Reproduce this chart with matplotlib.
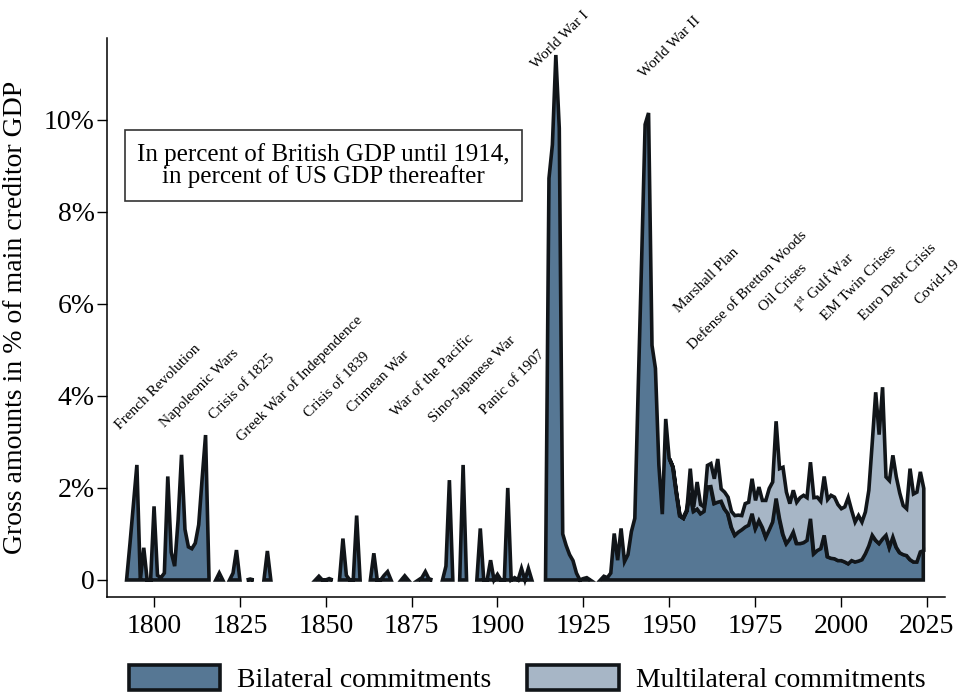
import matplotlib
matplotlib.use("Agg")
import matplotlib.pyplot as plt
from matplotlib.patches import Patch
import numpy as np

plt.rcParams['font.family'] = ['Liberation Serif', 'DejaVu Serif']
plt.rcParams['mathtext.fontset'] = 'custom'
plt.rcParams['mathtext.rm'] = 'Liberation Serif'

nan = np.nan

# gross bilateral commitments, % of creditor GDP, one value per year 1790-2024
years = np.arange(1790, 2025)
bilateral = [
    nan, nan, 0, 0.8, 1.65, 2.5, 0, 0.7, 0, 0,                    # 1790s
    1.6, 0.1, 0.05, 0.15, 2.25, 0.6, 0.3, 1.3, 2.72, 1.1,         # 1800s
    0.72, 0.68, 0.8, 1.2, 2.2, 3.15, 0.05, nan, 0, 0.15,          # 1810s
    0, nan, 0, 0.15, 0.65, 0, nan, 0, 0.02, 0,                    # 1820s
    nan, nan, 0, 0.63, 0, nan, nan, nan, nan, nan,                # 1830s
    nan, nan, nan, nan, nan, nan, nan, 0, 0.08, 0,                # 1840s
    0, 0.03, 0, nan, 0, 0.9, 0.1, 0, 0, 1.4,                      # 1850s
    0, nan, nan, 0, 0.58, 0, 0, 0.1, 0.18, 0,                     # 1860s
    nan, nan, 0, 0.09, 0, nan, nan, 0, 0.05, 0.18,                # 1870s
    0.03, 0, nan, nan, 0, 0.3, 2.17, 0, nan, 0,                   # 1880s
    2.5, 0, nan, nan, 0, 1.12, 0, 0, 0.43, 0,                     # 1890s
    0.12, 0, 0, 2.0, 0, 0.05, 0, 0.25, 0, 0.25,                   # 1900s
    0, nan, nan, nan, 0, 8.73, 9.46, 11.41, 9.82, 1.0,            # 1910s
    0.75, 0.55, 0.42, 0.15, 0, 0.03, 0.05, 0, nan, nan,           # 1920s
    0, 0.08, 0.05, 0.15, 1.01, 0.43, 1.12, 0.4, 0.55, 1.05,       # 1930s
    1.34, 4.2, 7.0, 9.9, 10.15, 5.1, 4.6, 2.5, 1.43, 3.5,         # 1940s
    2.64, 2.46, 1.9, 1.4, 1.35, 1.5, 1.9, 1.5, 1.55, 1.45,        # 1950s
    1.5, 2.03, 2.04, 1.67, 1.7, 1.72, 1.55, 1.45, 1.15, 0.98,     # 1960s
    1.05, 1.1, 1.16, 1.2, 1.45, 1.13, 1.3, 1.15, 0.94, 1.1,       # 1970s
    1.27, 1.78, 1.34, 1.0, 0.8, 0.9, 1.05, 0.8, 0.8, 0.82,        # 1980s
    0.87, 1.34, 0.58, 0.65, 0.69, 0.98, 0.51, 0.48, 0.47, 0.43,   # 1990s
    0.43, 0.4, 0.36, 0.43, 0.4, 0.42, 0.45, 0.58, 0.75, 0.98,     # 2000s
    0.87, 0.8, 0.9, 0.98, 0.72, 0.94, 0.72, 0.6, 0.56, 0.54,      # 2010s
    0.45, 0.4, 0.4, 0.62, 0.65,                                   # 2020-2024
]

# multilateral commitments, stacked on top of the bilateral ones
multi_years = np.arange(1950, 2025)
multilateral = [
    0, 0, 0, 0, 0, 0.02, 0.53, 0.1, 0.59, 0.2,                    # 1950s
    0.1, 0.47, 0.5, 0.54, 0.94, 0.27, 0.37, 0.36, 0.35, 0.43,     # 1960s
    0.37, 0.31, 0.51, 0.5, 0.76, 0.61, 0.73, 0.59, 0.8, 0.9,      # 1970s
    0.87, 1.68, 1.09, 1.46, 1.12, 0.77, 0.91, 0.9, 1.0, 1.03,     # 1980s
    0.93, 1.23, 1.22, 1.16, 1.03, 1.28, 1.25, 1.37, 1.34, 1.22,   # 1990s
    1.13, 1.2, 1.44, 1.09, 0.87, 0.99, 0.82, 0.91, 1.21, 2.02,    # 2000s
    3.22, 2.37, 3.3, 1.27, 1.45, 1.78, 1.53, 1.3, 1.07, 1.02,     # 2010s
    1.98, 1.48, 1.52, 1.74, 1.35,                                 # 2020-2024
]

event_names = [
    "French Revolution", "Napoleonic Wars", "Crisis of 1825",
    "Greek War of Independence", "Crisis of 1839", "Crimean War",
    "War of the Pacific", "Sino-Japanese War", "Panic of 1907",
    "World War I", "World War II", "Marshall Plan",
    "Defense of Bretton Woods", "Oil Crises", r"1$^{\mathrm{st}}$ Gulf War",
    "EM Twin Crises", "Euro Debt Crisis", "Covid-19",
]
# where each rotated label starts (year, % value)
event_pos = [
    (1790.0, 3.26), (1803.1, 3.30), (1817.6, 3.48), (1825.7, 3.00),
    (1845.1, 3.52), (1857.6, 3.63), (1870.4, 3.54), (1881.4, 3.41),
    (1896.5, 3.59), (1911.2, 11.10), (1942.8, 10.90), (1953.0, 5.80),
    (1956.9, 5.00), (1977.7, 5.82), (1987.9, 5.76), (1995.6, 5.62),
    (2006.7, 5.62), (2023.0, 5.98),
]

c_bil = '#567794'
c_mul = '#a7b6c6'
c_edge = '#111519'
lw = 2.6

fig = plt.figure(figsize=(9.58, 6.98), dpi=100)
ax = fig.add_axes([0.1117, 0.1447, 0.875, 0.8009])

bil = np.array(bilateral, dtype=float)
mul = np.array(multilateral, dtype=float)
bil_m = bil[years >= multi_years[0]]

ax.fill_between(years, 0, bil, facecolor=c_bil, edgecolor=c_edge,
                linewidth=lw, joinstyle='miter', zorder=2)
ax.fill_between(multi_years, bil_m, bil_m + mul, facecolor=c_mul,
                edgecolor=c_edge, linewidth=lw, joinstyle='miter', zorder=3)

for name, (x, y) in zip(event_names, event_pos):
    ax.text(x, y, name, rotation=45, rotation_mode='anchor', ha='left',
            va='baseline', fontsize=11, clip_on=False, zorder=4)

ax.set_xlim(1786.3, 2030.4)
ax.set_ylim(-0.37, 11.78)
ax.set_xticks(range(1800, 2026, 25))
ax.set_yticks([0, 2, 4, 6, 8, 10])
ax.set_yticklabels(['0', '2%', '4%', '6%', '8%', '10%'])
ax.tick_params(direction='out', length=7, width=1, labelsize=20, colors='black')
ax.tick_params(axis='y', pad=2)
ax.tick_params(axis='x', pad=5)
for side in ['top', 'right']:
    ax.spines[side].set_visible(False)
for side in ['left', 'bottom']:
    ax.spines[side].set_linewidth(1.1)

ax.set_ylabel('Gross amounts in % of main creditor GDP', fontsize=20)
ax.yaxis.set_label_coords(-0.094, 0.5)

fig.text(0.3377, 0.7629,
         'In percent of British GDP until 1914,\nin percent of US GDP thereafter',
         ha='center', va='center', fontsize=18, linespacing=0.95,
         bbox=dict(boxstyle='square,pad=0.5', fc='white', ec='#333333', lw=1.2))

handles = [Patch(facecolor=c_bil, edgecolor=c_edge, linewidth=lw),
           Patch(facecolor=c_mul, edgecolor=c_edge, linewidth=lw)]
fig.legend(handles, ['Bilateral commitments', 'Multilateral commitments'],
           loc='center', bbox_to_anchor=(0.55, 0.027), ncol=2, frameon=False,
           fontsize=20, handlelength=3.3, handleheight=1.0,
           handletextpad=0.6, columnspacing=1.3)

fig.savefig('out.png', dpi=100)
